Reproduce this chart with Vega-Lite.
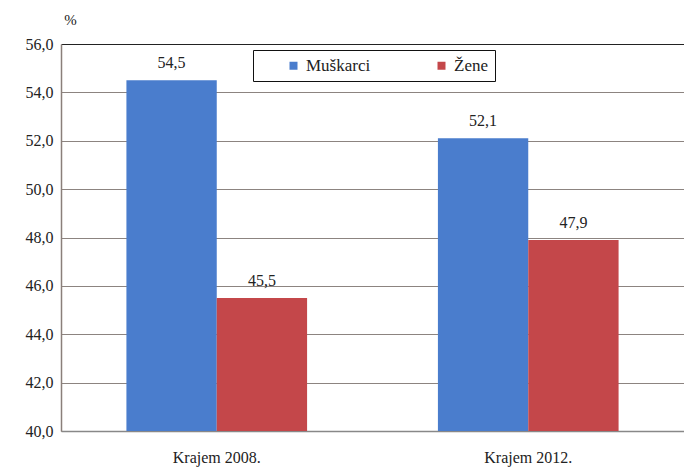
{
  "$schema": "https://vega.github.io/schema/vega-lite/v6.json",
  "width": 623,
  "height": 387,
  "autosize": {"type": "none"},
  "padding": {"left": 61, "top": 44, "right": 0, "bottom": 40},
  "background": "white",
  "config": {
    "locale": {"number": {"decimal": ",", "thousands": ".", "grouping": [3], "currency": ["", " €"]}},
    "font": "'Liberation Serif', 'DejaVu Serif', serif",
    "view": {"stroke": null},
    "axis": {"labelFont": "'Liberation Serif', 'DejaVu Serif', serif", "titleFont": "'Liberation Serif', 'DejaVu Serif', serif"},
    "legend": {"labelFont": "'Liberation Serif', 'DejaVu Serif', serif", "titleFont": "'Liberation Serif', 'DejaVu Serif', serif"},
    "text": {"font": "'Liberation Serif', 'DejaVu Serif', serif"}
  },
  "data": {
    "values": [
      {"period": "Krajem 2008.", "spol": "Muškarci", "value": 54.5},
      {"period": "Krajem 2008.", "spol": "Žene", "value": 45.5},
      {"period": "Krajem 2012.", "spol": "Muškarci", "value": 52.1},
      {"period": "Krajem 2012.", "spol": "Žene", "value": 47.9}
    ]
  },
  "encoding": {
    "x": {
      "field": "period", "type": "nominal", "sort": null,
      "scale": {"paddingInner": 0.42, "paddingOuter": 0.21},
      "axis": {"title": null, "labelAngle": 0, "labelFontSize": 16, "labelColor": "#222", "labelPadding": 18, "ticks": false, "domainColor": "#888", "domainWidth": 1.5}
    },
    "xOffset": {"field": "spol", "type": "nominal", "scale": {"paddingInner": 0, "paddingOuter": 0}},
    "y": {
      "field": "value", "type": "quantitative",
      "scale": {"domain": [40, 56], "nice": false, "zero": false},
      "axis": {
        "title": "%", "titleAngle": 0, "titleX": 9, "titleY": -20, "titleAlign": "center", "titleBaseline": "alphabetic",
        "titleFontSize": 15, "titleFontWeight": "normal", "titleColor": "#222",
        "values": [40, 42, 44, 46, 48, 50, 52, 54, 56], "format": ",.1f",
        "labelFontSize": 16, "labelColor": "#222", "labelPadding": 8, "ticks": false,
        "domainColor": "#8a7f7a", "domainWidth": 1.5,
        "grid": true, "gridWidth": 1.2,
        "gridColor": {"condition": {"test": "datum.value == 56", "value": "#222"}, "value": "#8c8480"}
      }
    }
  },
  "layer": [
    {
      "mark": {"type": "bar", "clip": true},
      "encoding": {
        "color": {
          "field": "spol", "type": "nominal",
          "scale": {"domain": ["Muškarci", "Žene"], "range": ["#4a7dcd", "#c4474a"]},
          "legend": {
            "title": "\u00a0", "titleOrient": "left", "titlePadding": 25, "titleFontSize": 10,
            "orient": "none", "direction": "horizontal",
            "legendX": 192, "legendY": 6,
            "symbolType": "square", "symbolSize": 64, "symbolStrokeWidth": 0,
            "labelFontSize": 17, "labelColor": "#222",
            "columnPadding": 62,
            "strokeColor": "#111", "fillColor": "white",
            "padding": 7
          }
        }
      }
    },
    {
      "mark": {"type": "text", "dy": -17, "fontSize": 16, "color": "#222"},
      "encoding": {
        "text": {"field": "value", "type": "quantitative", "format": ",.1f"}
      }
    }
  ]
}
